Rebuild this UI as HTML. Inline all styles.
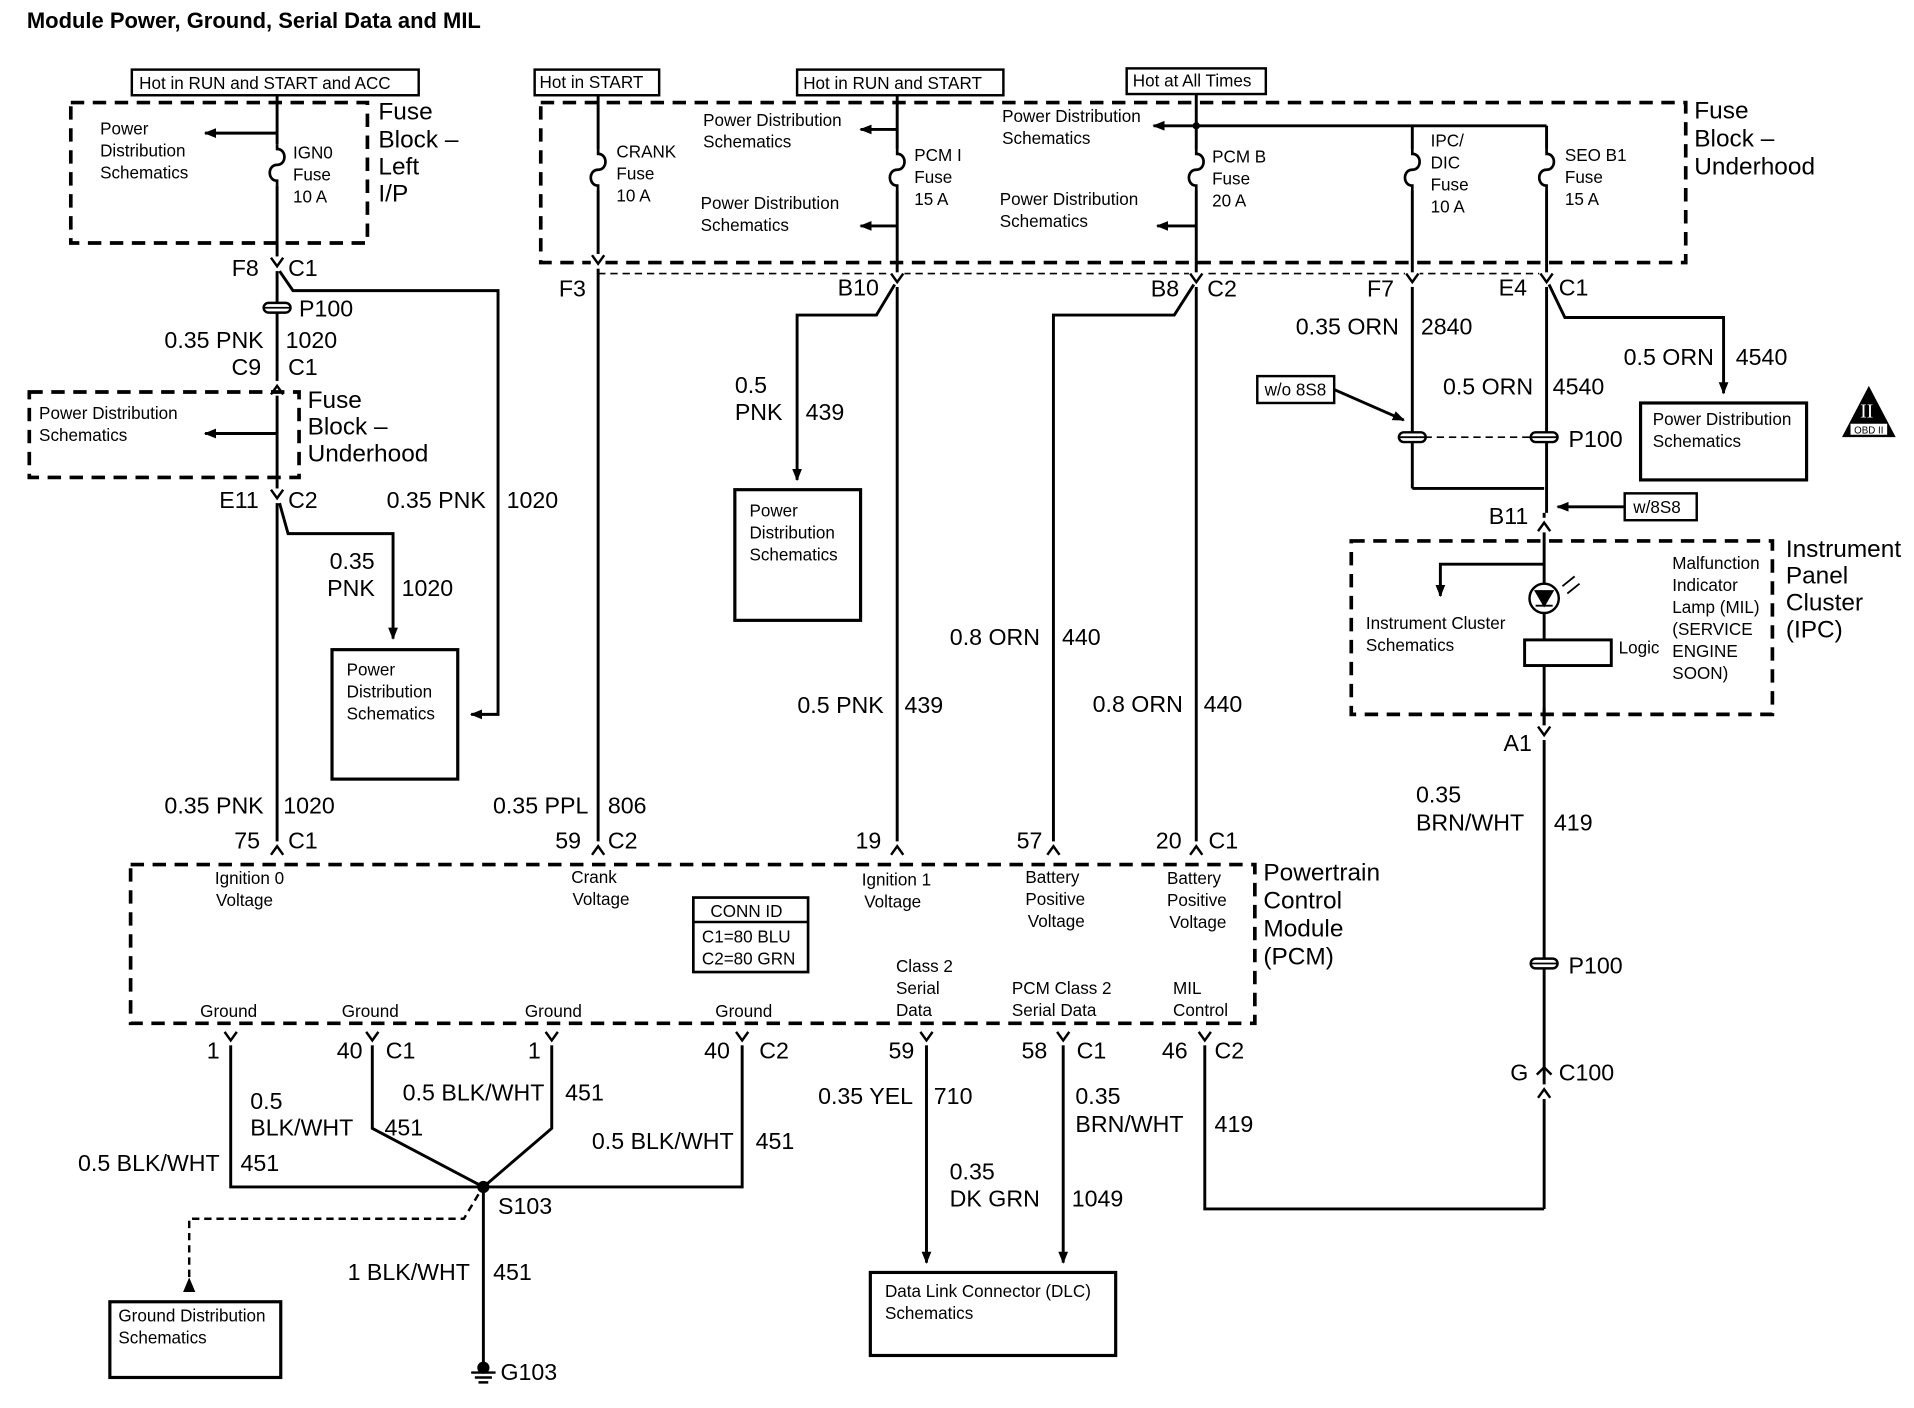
<!DOCTYPE html>
<html><head><meta charset="utf-8"><style>
html,body{margin:0;padding:0;background:#fff;}
svg{display:block;}
text{font-family:"Liberation Sans",Arial,sans-serif;fill:#000;}
.s{font-size:14px;}
.m{font-size:20px;}
.b{font-size:19px;}
.r{text-anchor:end;}
.ln{stroke:#000;stroke-width:2.4;fill:none;}
.dh{stroke:#000;stroke-width:3;fill:none;stroke-dasharray:11,7;}
.dt{stroke:#000;stroke-width:1.3;fill:none;stroke-dasharray:6,4;}
.bx{stroke:#000;stroke-width:2.6;fill:#fff;}
</style></head><body>
<svg width="1914" height="1408" viewBox="0 0 1568 1153" preserveAspectRatio="none" xmlns="http://www.w3.org/2000/svg">
<defs>
<marker id="ar" markerWidth="10" markerHeight="10" refX="9" refY="5" orient="auto" markerUnits="userSpaceOnUse"><path d="M0,1 L10,5 L0,9 z" fill="#000"/></marker>
<g id="fuse"><rect x="-3" y="0" width="6" height="34" fill="#fff"/><path d="M0,0 L0,4 C8,4 8,17 0,17 C-8,17 -8,30 0,30 L0,34" stroke="#000" stroke-width="2.2" fill="none"/></g>
<g id="pill"><rect x="-11" y="-4" width="22" height="8" rx="4" fill="#fff" stroke="#000" stroke-width="2"/><line x1="-11" y1="0" x2="11" y2="0" stroke="#000" stroke-width="1.5"/></g>
<g id="cd"><rect x="-6" y="-2" width="12" height="12" fill="#fff"/><path d="M-5,-1 L0,6 L5,-1" stroke="#000" stroke-width="2" fill="none"/></g>
<g id="cu"><rect x="-6" y="-10" width="12" height="12" fill="#fff"/><path d="M-5,1 L0,-6 L5,1" stroke="#000" stroke-width="2" fill="none"/></g>
</defs>

<text x="22" y="23" style="font-size:18px;font-weight:bold">Module Power, Ground, Serial Data and MIL</text>

<!-- Left fuse block -->
<rect x="108" y="57" width="235" height="21" class="bx" style="stroke-width:2"/>
<text x="114" y="73" class="s">Hot in RUN and START and ACC</text>
<rect x="58" y="84" width="243" height="115" class="dh"/>
<line x1="227" y1="78" x2="227" y2="695" class="ln"/>
<line x1="227" y1="109" x2="168" y2="109" class="ln" marker-end="url(#ar)"/>
<use href="#fuse" x="227" y="118"/>
<text x="82" y="110" class="s">Power</text><text x="82" y="128" class="s">Distribution</text><text x="82" y="146" class="s">Schematics</text>
<text x="240" y="130" class="s">IGN0</text><text x="240" y="148" class="s">Fuse</text><text x="240" y="166" class="s">10 A</text>
<text x="310" y="98" class="m">Fuse</text><text x="310" y="121" class="m">Block –</text><text x="310" y="143" class="m">Left</text><text x="310" y="165" class="m">I/P</text>
<use href="#cd" x="227" y="212"/>
<text x="212" y="226" class="b r">F8</text><text x="236" y="226" class="b">C1</text>
<polyline points="229,222 240,238 408,238 408,585 386,585" class="ln" marker-end="url(#ar)"/>
<use href="#pill" x="227" y="252"/>
<text x="245" y="259" class="b">P100</text>
<text x="216" y="285" class="b r">0.35 PNK</text><text x="234" y="285" class="b">1020</text>
<use href="#cu" x="227" y="322"/>
<text x="214" y="307" class="b r">C9</text><text x="236" y="307" class="b">C1</text>
<rect x="24" y="321" width="221" height="70" class="dh"/>
<line x1="227" y1="355" x2="168" y2="355" class="ln" marker-end="url(#ar)"/>
<text x="32" y="343" class="s">Power Distribution</text><text x="32" y="361" class="s">Schematics</text>
<text x="252" y="334" class="m">Fuse</text><text x="252" y="356" class="m">Block –</text><text x="252" y="378" class="m">Underhood</text>
<use href="#cd" x="227" y="402"/>
<text x="212" y="416" class="b r">E11</text><text x="236" y="416" class="b">C2</text>
<polyline points="229,412 236,437 322,437 322,523" class="ln" marker-end="url(#ar)"/>
<text x="398" y="416" class="b r">0.35 PNK</text><text x="415" y="416" class="b">1020</text>
<text x="270" y="466" class="b">0.35</text><text x="268" y="488" class="b">PNK</text><text x="329" y="488" class="b">1020</text>
<rect x="272" y="532" width="103" height="106" class="bx"/>
<text x="284" y="553" class="s">Power</text><text x="284" y="571" class="s">Distribution</text><text x="284" y="589" class="s">Schematics</text>
<text x="216" y="666" class="b r">0.35 PNK</text><text x="232" y="666" class="b">1020</text>
<text x="213" y="695" class="b r">75</text><text x="236" y="695" class="b">C1</text>
<use href="#cu" x="227" y="699"/>

<!-- Underhood fuse block -->
<rect x="438" y="57" width="102" height="21" class="bx" style="stroke-width:2"/>
<text x="442" y="72" class="s">Hot in START</text>
<rect x="653" y="57" width="169" height="21" class="bx" style="stroke-width:2"/>
<text x="658" y="73" class="s">Hot in RUN and START</text>
<rect x="923" y="56" width="114" height="21" class="bx" style="stroke-width:2"/>
<text x="928" y="71" class="s">Hot at All Times</text>
<rect x="443" y="84" width="938" height="131" class="dh"/>
<line x1="490" y1="224" x2="1267" y2="224" class="dt"/>
<text x="1388" y="97" class="m">Fuse</text><text x="1388" y="120" class="m">Block –</text><text x="1388" y="143" class="m">Underhood</text>

<!-- F3 crank -->
<line x1="490" y1="78" x2="490" y2="695" class="ln"/>
<use href="#fuse" x="490" y="122"/>
<text x="505" y="129" class="s">CRANK</text><text x="505" y="147" class="s">Fuse</text><text x="505" y="165" class="s">10 A</text>
<use href="#cd" x="490" y="210"/>
<text x="480" y="243" class="b r">F3</text>
<text x="482" y="666" class="b r">0.35 PPL</text><text x="498" y="666" class="b">806</text>
<text x="476" y="695" class="b r">59</text><text x="498" y="695" class="b">C2</text>
<use href="#cu" x="490" y="699"/>

<!-- PCM I -->
<line x1="735" y1="78" x2="735" y2="695" class="ln"/>
<line x1="735" y1="106" x2="705" y2="106" class="ln" marker-end="url(#ar)"/>
<line x1="735" y1="185" x2="705" y2="185" class="ln" marker-end="url(#ar)"/>
<text x="576" y="103" class="s">Power Distribution</text><text x="576" y="121" class="s">Schematics</text>
<text x="574" y="171" class="s">Power Distribution</text><text x="574" y="189" class="s">Schematics</text>
<use href="#fuse" x="735" y="122"/>
<text x="749" y="132" class="s">PCM I</text><text x="749" y="150" class="s">Fuse</text><text x="749" y="168" class="s">15 A</text>
<use href="#cd" x="735" y="225"/>
<text x="720" y="242" class="b r">B10</text>
<polyline points="733,233 718,258 653,258 653,393" class="ln" marker-end="url(#ar)"/>
<text x="602" y="322" class="b">0.5</text><text x="602" y="344" class="b">PNK</text><text x="660" y="344" class="b">439</text>
<rect x="602" y="401" width="103" height="107" class="bx"/>
<text x="614" y="423" class="s">Power</text><text x="614" y="441" class="s">Distribution</text><text x="614" y="459" class="s">Schematics</text>
<text x="724" y="584" class="b r">0.5 PNK</text><text x="741" y="584" class="b">439</text>
<text x="722" y="695" class="b r">19</text>
<use href="#cu" x="735" y="699"/>

<!-- PCM B -->
<line x1="980" y1="77" x2="980" y2="695" class="ln"/>
<line x1="980" y1="103" x2="945" y2="103" class="ln" marker-end="url(#ar)"/>
<line x1="980" y1="103" x2="1267" y2="103" class="ln"/>
<circle cx="980" cy="103" r="3" fill="#000"/>
<line x1="980" y1="185" x2="948" y2="185" class="ln" marker-end="url(#ar)"/>
<text x="821" y="100" class="s">Power Distribution</text><text x="821" y="118" class="s">Schematics</text>
<text x="819" y="168" class="s">Power Distribution</text><text x="819" y="186" class="s">Schematics</text>
<use href="#fuse" x="980" y="122"/>
<text x="993" y="133" class="s">PCM B</text><text x="993" y="151" class="s">Fuse</text><text x="993" y="169" class="s">20 A</text>
<use href="#cd" x="980" y="225"/>
<text x="966" y="243" class="b r">B8</text><text x="989" y="243" class="b">C2</text>
<polyline points="978,233 962,258 863,258 863,695" class="ln"/>
<text x="852" y="528" class="b r">0.8 ORN</text><text x="870" y="528" class="b">440</text>
<text x="969" y="583" class="b r">0.8 ORN</text><text x="986" y="583" class="b">440</text>
<text x="854" y="695" class="b r">57</text>
<use href="#cu" x="863" y="699"/>
<text x="968" y="695" class="b r">20</text><text x="990" y="695" class="b">C1</text>
<use href="#cu" x="980" y="699"/>

<!-- IPC/DIC & SEO -->
<line x1="1157" y1="103" x2="1157" y2="400" class="ln"/>
<polyline points="1157,400 1265,400" class="ln"/>
<use href="#fuse" x="1157" y="122"/>
<text x="1172" y="120" class="s">IPC/</text><text x="1172" y="138" class="s">DIC</text><text x="1172" y="156" class="s">Fuse</text><text x="1172" y="174" class="s">10 A</text>
<use href="#cd" x="1157" y="225"/>
<text x="1142" y="243" class="b r">F7</text>
<text x="1146" y="274" class="b r">0.35 ORN</text><text x="1164" y="274" class="b">2840</text>
<line x1="1267" y1="103" x2="1267" y2="420" class="ln"/>
<use href="#fuse" x="1267" y="122"/>
<text x="1282" y="132" class="s">SEO B1</text><text x="1282" y="150" class="s">Fuse</text><text x="1282" y="168" class="s">15 A</text>
<use href="#cd" x="1267" y="225"/>
<text x="1251" y="242" class="b r">E4</text><text x="1277" y="242" class="b">C1</text>
<polyline points="1269,233 1282,260 1412,260 1412,322" class="ln" marker-end="url(#ar)"/>
<text x="1404" y="299" class="b r">0.5 ORN</text><text x="1422" y="299" class="b">4540</text>
<rect x="1344" y="330" width="136" height="63" class="bx"/>
<text x="1354" y="348" class="s">Power Distribution</text><text x="1354" y="366" class="s">Schematics</text>
<text x="1256" y="323" class="b r">0.5 ORN</text><text x="1272" y="323" class="b">4540</text>
<line x1="1157" y1="358" x2="1267" y2="358" class="dt"/>
<use href="#pill" x="1157" y="358"/><use href="#pill" x="1265" y="358"/>
<text x="1285" y="366" class="b">P100</text>
<rect x="1030" y="308" width="63" height="22" class="bx" style="stroke-width:2"/><text x="1036" y="324" class="s">w/o 8S8</text>
<line x1="1093" y1="319" x2="1150" y2="344" class="ln" marker-end="url(#ar)"/>
<rect x="1331" y="404" width="59" height="22" class="bx" style="stroke-width:2"/><text x="1338" y="420" class="s">w/8S8</text>
<line x1="1331" y1="415" x2="1276" y2="415" class="ln" marker-end="url(#ar)"/>
<text x="1252" y="429" class="b r">B11</text>
<line x1="1265" y1="420" x2="1265" y2="600" class="ln"/>
<use href="#cu" x="1265" y="434"/>
<!-- OBD II -->
<path d="M1531,316 L1553,358 L1509,358 Z" fill="#000"/>
<rect x="1516" y="347" width="30" height="9" fill="#fff"/>
<text x="1519" y="355" style="font-size:8px">OBD II</text>
<text x="1524" y="342" style="font-size:16px;fill:#fff;font-family:'Liberation Serif',serif">II</text>

<!-- IPC -->
<rect x="1107" y="443" width="345" height="142" class="dh"/>
<polyline points="1265,462 1180,462 1180,488" class="ln" marker-end="url(#ar)"/>
<text x="1119" y="515" class="s">Instrument Cluster</text><text x="1119" y="533" class="s">Schematics</text>
<circle cx="1265" cy="490" r="12" fill="#fff" stroke="#000" stroke-width="2"/>
<path d="M1258,484 L1272,484 L1265,496 Z M1258,496 L1272,496" stroke="#000" stroke-width="1.5" fill="#000"/>
<path d="M1280,480 L1290,472 M1284,486 L1294,478" stroke="#000" stroke-width="1.5"/>
<rect x="1249" y="524" width="71" height="21" fill="#fff" stroke="#000" stroke-width="2.4"/>
<text x="1326" y="535" class="s">Logic</text>
<text x="1370" y="466" class="s">Malfunction</text><text x="1370" y="484" class="s">Indicator</text><text x="1370" y="502" class="s">Lamp (MIL)</text><text x="1370" y="520" class="s">(SERVICE</text><text x="1370" y="538" class="s">ENGINE</text><text x="1370" y="556" class="s">SOON)</text>
<text x="1463" y="456" class="m">Instrument</text><text x="1463" y="478" class="m">Panel</text><text x="1463" y="500" class="m">Cluster</text><text x="1463" y="522" class="m">(IPC)</text>
<line x1="1265" y1="580" x2="1265" y2="990" class="ln"/>
<use href="#cd" x="1265" y="596"/>
<text x="1255" y="615" class="b r">A1</text>
<text x="1160" y="657" class="b">0.35</text><text x="1160" y="680" class="b">BRN/WHT</text><text x="1273" y="680" class="b">419</text>
<use href="#pill" x="1265" y="789"/>
<text x="1285" y="797" class="b">P100</text>
<use href="#cu" x="1265" y="898"/>
<path d="M1259,880 L1265,874 L1271,880" stroke="#000" stroke-width="2" fill="none"/>
<text x="1252" y="885" class="b r">G</text><text x="1277" y="885" class="b">C100</text>
<polyline points="1265,990 987,990 987,852" class="ln"/>

<!-- PCM -->
<rect x="107" y="708" width="921" height="130" class="dh"/>
<text x="1035" y="721" class="m">Powertrain</text><text x="1035" y="744" class="m">Control</text><text x="1035" y="767" class="m">Module</text><text x="1035" y="790" class="m">(PCM)</text>
<text x="176" y="724" class="s">Ignition 0</text><text x="177" y="742" class="s">Voltage</text>
<text x="468" y="723" class="s">Crank</text><text x="469" y="741" class="s">Voltage</text>
<text x="706" y="725" class="s">Ignition 1</text><text x="708" y="743" class="s">Voltage</text>
<text x="840" y="723" class="s">Battery</text><text x="840" y="741" class="s">Positive</text><text x="842" y="759" class="s">Voltage</text>
<text x="956" y="724" class="s">Battery</text><text x="956" y="742" class="s">Positive</text><text x="958" y="760" class="s">Voltage</text>
<rect x="568" y="735" width="94" height="61" class="bx" style="stroke-width:2.2"/>
<line x1="568" y1="755" x2="662" y2="755" stroke="#000" stroke-width="2"/>
<text x="582" y="751" class="s">CONN ID</text><text x="575" y="772" class="s">C1=80 BLU</text><text x="575" y="790" class="s">C2=80 GRN</text>
<text x="734" y="796" class="s">Class 2</text><text x="734" y="814" class="s">Serial</text><text x="734" y="832" class="s">Data</text>
<text x="829" y="814" class="s">PCM Class 2</text><text x="829" y="832" class="s">Serial Data</text>
<text x="961" y="814" class="s">MIL</text><text x="961" y="832" class="s">Control</text>
<text x="164" y="833" class="s">Ground</text><text x="280" y="833" class="s">Ground</text><text x="430" y="833" class="s">Ground</text><text x="586" y="833" class="s">Ground</text>

<!-- Grounds -->
<polyline points="189,845 189,972 396,972" class="ln"/>
<polyline points="305,845 305,924 396,972" class="ln"/>
<polyline points="452,845 452,924 396,972" class="ln"/>
<polyline points="608,845 608,972 396,972" class="ln"/>
<use href="#cd" x="189" y="846"/><use href="#cd" x="305" y="846"/><use href="#cd" x="452" y="846"/><use href="#cd" x="608" y="846"/>
<text x="180" y="867" class="b r">1</text>
<text x="297" y="867" class="b r">40</text><text x="316" y="867" class="b">C1</text>
<text x="443" y="867" class="b r">1</text>
<text x="598" y="867" class="b r">40</text><text x="622" y="867" class="b">C2</text>
<text x="205" y="908" class="b">0.5</text><text x="205" y="930" class="b">BLK/WHT</text><text x="315" y="930" class="b">451</text>
<text x="446" y="901" class="b r">0.5 BLK/WHT</text><text x="463" y="901" class="b">451</text>
<text x="601" y="941" class="b r">0.5 BLK/WHT</text><text x="619" y="941" class="b">451</text>
<text x="180" y="959" class="b r">0.5 BLK/WHT</text><text x="197" y="959" class="b">451</text>
<circle cx="396" cy="972" r="5" fill="#000"/>
<text x="408" y="994" class="b">S103</text>
<line x1="396" y1="972" x2="396" y2="1116" class="ln"/>
<polyline points="392,978 380,998 155,998 155,1052" class="dt" style="stroke-width:2"/>
<path d="M150,1058 L155,1046 L160,1058 Z" fill="#000"/>
<rect x="90" y="1066" width="140" height="62" class="bx"/>
<text x="97" y="1082" class="s">Ground Distribution</text><text x="97" y="1100" class="s">Schematics</text>
<text x="385" y="1048" class="b r">1 BLK/WHT</text><text x="404" y="1048" class="b">451</text>
<circle cx="396" cy="1120" r="5" fill="#000"/>
<path d="M386,1124 L406,1124 M389,1128 L403,1128 M392,1132 L400,1132" stroke="#000" stroke-width="2"/>
<text x="410" y="1130" class="b">G103</text>

<!-- Serial data -->
<line x1="759" y1="846" x2="759" y2="1034" class="ln" marker-end="url(#ar)"/>
<line x1="871" y1="846" x2="871" y2="1034" class="ln" marker-end="url(#ar)"/>
<use href="#cd" x="759" y="846"/><use href="#cd" x="871" y="846"/><use href="#cd" x="987" y="846"/>
<text x="749" y="867" class="b r">59</text>
<text x="858" y="867" class="b r">58</text><text x="882" y="867" class="b">C1</text>
<text x="973" y="867" class="b r">46</text><text x="995" y="867" class="b">C2</text>
<text x="748" y="904" class="b r">0.35 YEL</text><text x="765" y="904" class="b">710</text>
<text x="778" y="966" class="b">0.35</text><text x="778" y="988" class="b">DK GRN</text><text x="878" y="988" class="b">1049</text>
<text x="881" y="904" class="b">0.35</text><text x="881" y="927" class="b">BRN/WHT</text><text x="995" y="927" class="b">419</text>
<rect x="713" y="1042" width="201" height="68" class="bx"/>
<text x="725" y="1062" class="s">Data Link Connector (DLC)</text><text x="725" y="1080" class="s">Schematics</text>
</svg>
</body></html>
